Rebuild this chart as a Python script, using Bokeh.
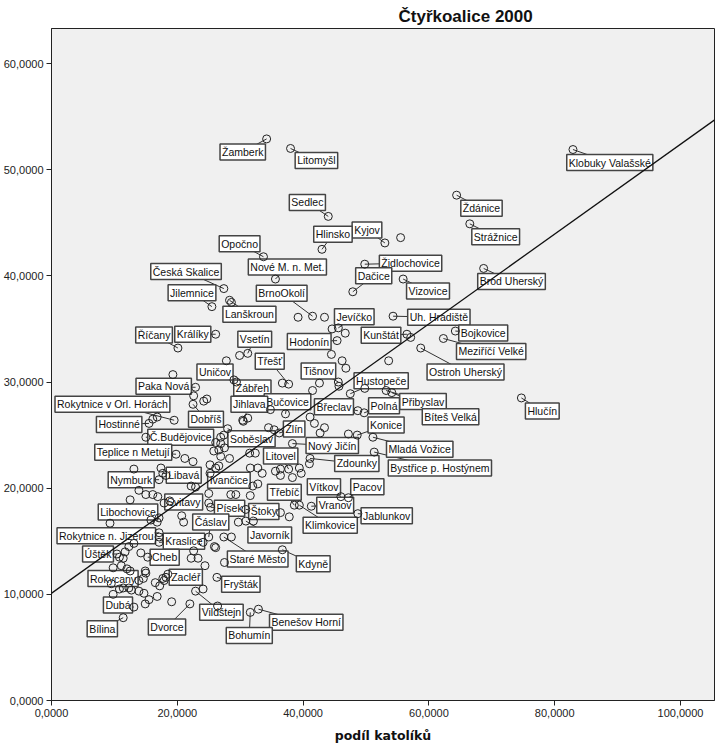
import numpy as np
from bokeh.plotting import figure
from bokeh.models import ColumnDataSource, FixedTicker, Slope, Range1d
from bokeh.embed import file_html
from bokeh.resources import INLINE

# ---------------- data ----------------
title_text = "Čtyřkoalice 2000"
x_title = "podíl katolíků"

names = ["Žamberk", "Litomyšl", "Klobuky Valašské", "Ždánice", "Sedlec", "Strážnice", "Kyjov",
         "Hlinsko", "Opočno", "Nové M. n. Met.", "Židlochovice", "Dačice", "Vizovice", "Brod Uherský",
         "Česká Skalice", "Jilemnice", "Lanškroun", "BrnoOkolí", "Jevíčko", "Uh. Hradiště", "Kunštát",
         "Bojkovice", "Meziříčí Velké", "Ostroh Uherský", "Hodonín", "Vsetín", "Králíky", "Říčany",
         "Třešť", "Tišnov", "Hustopeče", "Uničov", "Paka Nová", "Zábřeh", "Přibyslav", "Bučovice",
         "Rokytnice v Orl. Horách", "Jihlava", "Břeclav", "Polná", "Bíteš Velká", "Hlučín", "Dobříš",
         "Hostinné", "Konice", "Č.Budějovice", "Soběslav", "Zlín", "Nový Jičín", "Mladá Vožice",
         "Teplice n Metují", "Litovel", "Zdounky", "Bystřice p. Hostýnem", "Libavá", "Nymburk",
         "Ivančice", "Třebíč", "Vítkov", "Pacov", "Vranov", "Jablunkov", "Klimkovice", "Svitavy",
         "Písek", "Štoky", "Libochovice", "Čáslav", "Rokytnice n. Jizerou", "Kraslice", "Javorník",
         "Úštěk", "Cheb", "Staré Město", "Kdyně", "Rokycany", "Zacléř", "Fryšták", "Dubá",
         "Vildštejn", "Benešov Horní", "Bílina", "Dvorce", "Bohumín"]

# podíl katolíků (x) of labelled towns
kat = [34.2, 38.0, 82.9, 64.4, 44.0, 66.5, 53.0,
       43.0, 33.7, 35.6, 49.8, 47.9, 55.9, 68.7,
       27.4, 25.5, 28.3, 41.5, 45.6, 54.3, 56.5,
       64.2, 62.3, 58.7, 45.4, 31.2, 26.1, 20.1,
       37.7, 45.6, 47.5, 29.0, 22.9, 29.4, 53.2, 37.2,
       19.5, 30.5, 48.7, 49.7, 54.1, 74.7, 22.5,
       15.5, 48.6, 15.0, 28.0, 36.2, 38.3, 51.1,
       19.8, 37.7, 41.1, 51.3, 17.7, 17.1,
       25.2, 38.6, 46.0, 47.2, 41.3, 48.7, 39.4, 18.8,
       25.3, 30.9, 15.8, 25.0, 17.1, 17.1, 30.9,
       10.4, 15.3, 27.4, 36.7, 13.9, 18.5, 26.3, 13.1,
       22.9, 32.9, 11.4, 22.0, 31.6]

# Čtyřkoalice 2000 (y) of labelled towns
ctyr = [52.9, 52.0, 51.9, 47.6, 45.6, 44.9, 43.1,
        42.5, 41.8, 39.7, 41.1, 38.5, 39.7, 40.7,
        38.8, 37.1, 37.7, 36.2, 35.1, 36.2, 34.5,
        34.8, 34.1, 33.2, 33.9, 32.7, 34.5, 33.2,
        29.8, 30.0, 28.9, 30.2, 29.5, 30.0, 29.2, 27.0,
        26.4, 26.3, 27.3, 27.1, 29.0, 28.5, 27.9,
        26.1, 25.0, 24.8, 25.6, 25.2, 24.2, 24.8,
        23.2, 21.8, 22.8, 23.4, 21.4, 20.8,
        21.4, 18.4, 19.2, 19.1, 18.3, 17.6, 18.4, 18.8,
        18.2, 18.0, 17.0, 15.4, 15.8, 14.9, 16.9,
        13.8, 13.5, 15.4, 14.2, 11.3, 11.9, 11.6, 8.8,
        10.3, 8.6, 7.8, 9.1, 8.3]

# unlabelled towns
kat_other = [55.5, 39.2, 43.4, 28.6, 57.1, 44.6, 46.7, 29.9, 27.8, 19.3, 22.6, 24.2, 24.7, 16.1,
             16.8, 31.2, 27.4, 26.9, 26.6, 25.8, 21.2, 22.5, 26.9, 28.3, 25.2, 26.6, 13.1, 17.4,
             44.5, 46.2, 46.8, 53.6, 36.7, 42.6, 45.7, 49.8, 41.5, 34.8, 41.1, 41.8, 30.4, 34.5,
             35.4, 42.7, 43.4, 47.2, 26.9, 26.1, 27.5, 31.5, 32.4, 41.0, 39.4, 31.6, 32.8, 35.6,
             36.4, 33.5, 36.4, 26.1, 39.7, 18.2, 13.9, 15.0, 16.1, 16.9, 12.5, 17.9, 22.2, 22.9,
             20.7, 21.0, 17.1, 16.8, 9.3, 17.1, 13.1, 12.3, 11.7, 11.4, 14.2, 24.1, 25.9,
             22.6, 22.2, 23.3, 9.8, 12.0, 12.5, 14.9, 14.6, 18.2, 17.9, 17.2, 24.1, 9.5, 10.8,
             12.3, 13.9, 14.7, 16.8, 14.9, 19.1, 9.8, 38.3, 32.0, 32.8, 31.6, 25.0, 28.5, 29.3,
             25.0, 36.4, 37.8, 29.7, 32.1, 26.1, 28.6, 24.4, 26.4, 27.5, 11.1, 15.0, 16.5, 17.7,
             12.7, 15.5, 11.4, 10.8]
ctyr_other = [43.6, 36.1, 36.1, 37.5, 34.2, 35.0, 34.6, 32.5, 32.0, 30.7, 28.7, 28.2, 28.4, 26.5,
              26.7, 26.6, 25.0, 24.2, 23.6, 23.5, 22.8, 22.5, 23.0, 22.8, 22.2, 22.1, 21.8, 21.9,
              32.6, 32.0, 31.3, 32.0, 29.9, 29.9, 29.6, 29.4, 29.2, 27.4, 26.7, 26.1, 26.4, 25.7,
              25.5, 25.2, 25.7, 25.1, 24.8, 24.3, 23.8, 23.3, 23.3, 22.3, 21.9, 21.9, 21.9, 21.6,
              21.8, 21.4, 21.2, 21.9, 21.4, 21.2, 19.8, 19.4, 19.4, 19.2, 18.9, 18.6, 20.2, 20.1,
              17.4, 16.8, 17.2, 16.8, 16.7, 15.4, 14.8, 14.5, 14.0, 13.4, 13.9, 14.9, 14.5,
              14.1, 13.4, 13.4, 12.5, 12.4, 12.2, 12.2, 11.5, 11.6, 11.3, 10.8, 10.5, 11.0, 10.5,
              10.6, 10.3, 10.1, 9.8, 9.1, 9.3, 10.0, 21.0, 20.2, 20.4, 19.3, 19.5, 19.4, 19.4,
              18.6, 17.7, 17.3, 16.8, 16.9, 14.4, 15.4, 12.7, 8.9, 13.0, 12.7, 12.0, 11.1, 11.5,
              10.4, 9.5, 10.6, 13.5]

x_ticks = [0, 20, 40, 60, 80, 100]
y_ticks = [0, 10, 20, 30, 40, 50, 60]
fit_intercept = 10.1   # fit line
fit_slope = 0.423

# label box placement: offset of box centre from its point, in screen pixels (layout)
label_dx = [-24, 26, 37, 25, -21, 26, -18, 11, -24, 12, 46, 21, 25, 28,
            -38, -20, 20, -31, 16, 46, -26, 28, 48, 45, -28, 7, -23, -24,
            -19, -20, 31, -19, -32, 16, 37, 2, -62, 6, -24, 20, 59, 21, 13,
            -30, 29, 35, 24, 15, 40, 47, -43, -8, 47, 66, 21, -28,
            19, -10, -17, 19, 24, 29, 31, 14, 19, 18, -23, 2, -53, 25, 24,
            -19, 17, 34, 31, -26, 18, 24, -16, 26, 48, -21, -23, -1]
label_dy = [13, 12, 13, 13, -14, 13, -13, -15, -13, -12, -1, -16, 12, 13,
            -17, -14, 14, -23, -11, 1, 1, 2, 13, 24, 1, -14, 0, -13,
            -23, -11, -13, -8, -1, 6, 11, -12, -16, -17, -4, -7, 24, 13, 15,
            1, -10, 0, 10, -4, 2, 12, -2, -13, 5, 16, 2, 0,
            7, -13, -10, -11, -1, 2, 20, 1, 1, 2, -8, -15, 3, -1, 14,
            0, 0, 22, 14, -2, 3, 7, -2, 21, 13, 11, 23, 23]

# ---------------- layout ----------------
W, H = 725, 746
BL, BR, BT, BB = 48, 11, 28, 46
X_MAX, Y_MAX = 105.4, 63.3
sx = (W - BL - BR) / X_MAX
sy = (H - BT - BB) / Y_MAX
TITLE_LEFT = 395  # title left edge, canvas px

lx = [x + dx / sx for x, dx in zip(kat, label_dx)]
ly = [y - dy / sy for y, dy in zip(ctyr, label_dy)]

p = figure(width=W, height=H, output_backend="svg", toolbar_location=None,
           x_range=Range1d(0, X_MAX), y_range=Range1d(0, Y_MAX),
           min_border_left=BL, min_border_right=BR, min_border_top=BT, min_border_bottom=BB,
           background_fill_color="#F0F0F0", border_fill_color="white",
           title=title_text)
p.outline_line_color = "#222222"
p.outline_line_width = 1
p.grid.visible = False

p.title.align = "left"
p.title.offset = TITLE_LEFT - BL
p.title.standoff = 6
p.title.text_font = "Liberation Sans"
p.title.text_font_size = "17px"
p.title.text_font_style = "bold"
p.title.text_color = "#111111"

for ax, ticks in ((p.xaxis[0], x_ticks), (p.yaxis[0], y_ticks)):
    ax.ticker = FixedTicker(ticks=ticks)
    ax.major_label_overrides = {t: f"{t},0000" for t in ticks}
    ax.major_label_text_font = "Liberation Sans"
    ax.major_label_text_font_size = "11px"
    ax.major_label_text_color = "#222222"
    ax.major_tick_in = 0
    ax.major_tick_out = 5
    ax.minor_tick_line_color = None
    ax.axis_line_color = "#222222"
    ax.major_tick_line_color = "#222222"
    ax.major_label_standoff = 3

p.xaxis.axis_label = x_title
p.xaxis.axis_label_text_font = "DejaVu Sans"
p.xaxis.axis_label_text_font_size = "12.5px"
p.xaxis.axis_label_text_font_style = "bold"
p.xaxis.axis_label_text_color = "#111111"
p.xaxis.axis_label_standoff = 8

lab = ColumnDataSource(dict(x=kat, y=ctyr, lx=lx, ly=ly, name=names))
oth = ColumnDataSource(dict(x=kat_other, y=ctyr_other))

# leader lines
p.segment(x0="x", y0="y", x1="lx", y1="ly", source=lab, line_color="#333333", line_width=1)
# label boxes
p.text(x="lx", y="ly", text="name", source=lab, text_align="center", text_baseline="middle",
       text_font={"value": "Liberation Sans"}, text_font_size="10.5px", text_color="#111111",
       background_fill_color="white", border_line_color="#444444", border_line_width=1.5,
       padding=2)
# points
p.scatter(x="x", y="y", source=oth, marker="circle", size=8, fill_color=None,
          line_color="#222222", line_width=1)
p.scatter(x="x", y="y", source=lab, marker="circle", size=8, fill_color=None,
          line_color="#222222", line_width=1)

p.add_layout(Slope(gradient=fit_slope, y_intercept=fit_intercept, line_color="#111111", line_width=1.3))

open("out.html", "w").write(file_html(p, INLINE))
